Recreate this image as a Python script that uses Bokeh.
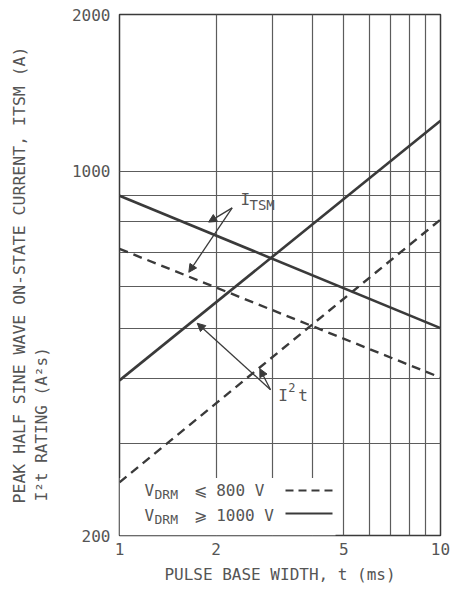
from bokeh.plotting import figure
from bokeh.models import (FixedTicker, Label, Arrow, NormalHead, BoxAnnotation,
                          CustomJSTickFormatter, LogAxis)
from bokeh.embed import file_html
from bokeh.resources import INLINE

# ---- data ----
pulse_ms = [1, 10]
itsm_800 = [710, 402]      # V_DRM <= 800 V, peak surge current (A)
itsm_1000 = [898, 500]     # V_DRM >= 1000 V
i2t_800 = [253, 808]       # I^2t rating (A^2 s)
i2t_1000 = [397, 1250]

x_tick_values = [1, 2, 5, 10]
x_grid_values = [2, 3, 4, 5, 6, 7, 8, 9]
y_tick_values = [200, 1000, 2000]
y_grid_values = [300, 400, 500, 600, 700, 800, 900, 1000]

FONT = "DejaVu Sans Mono"
INK = "#3a3a3a"
GRID = "#5c5c5c"
TXT = "#555555"
NBSP = "\u00a0"

p = figure(width=459, height=590, x_axis_type="log", y_axis_type="log",
           x_range=(1, 10), y_range=(200, 2000),
           output_backend="svg", toolbar_location=None,
           min_border_left=119, min_border_right=19,
           min_border_top=14, min_border_bottom=55,
           background_fill_color="white", border_fill_color="white")

p.outline_line_color = INK
p.outline_line_width = 1.5

fmt = CustomJSTickFormatter(code="return String(Math.round(tick));")
for ax, ticks in ((p.xaxis, x_tick_values), (p.yaxis, y_tick_values)):
    ax.ticker = FixedTicker(ticks=ticks)
    ax.formatter = fmt
    ax.axis_line_color = None
    ax.major_tick_line_color = None
    ax.minor_tick_line_color = None
    ax.major_tick_out = 0
    ax.major_tick_in = 0
    ax.minor_tick_out = 0
    ax.major_label_text_font = FONT
    ax.major_label_text_font_size = "16px"
    ax.major_label_text_color = TXT
    ax.axis_label_text_font = FONT
    ax.axis_label_text_font_style = "normal"
    ax.axis_label_text_color = TXT
    ax.axis_label_text_font_size = "16px"
p.yaxis.major_label_standoff = 9
p.xaxis.major_label_standoff = 7

p.xaxis.axis_label = "PULSE BASE WIDTH, t (ms)"
p.xaxis.axis_label_standoff = 7

# y-axis title: two lines, both starting at the same bottom point
p.yaxis.axis_label = "I\u00b2t RATING (A\u00b2s)" + NBSP * 31
p.yaxis.axis_label_standoff = 18
outer = LogAxis(ticker=FixedTicker(ticks=[]), axis_line_color=None,
                major_tick_line_color=None, minor_tick_line_color=None,
                major_tick_out=0, minor_tick_out=0, major_label_standoff=0,
                axis_label="PEAK HALF SINE WAVE ON-STATE CURRENT, ITSM (A)",
                axis_label_standoff=0, axis_label_text_font=FONT,
                axis_label_text_font_style="normal",
                axis_label_text_font_size="16.5px", axis_label_text_color=TXT)
p.add_layout(outer, "left")

p.xgrid.ticker = FixedTicker(ticks=x_grid_values)
p.ygrid.ticker = FixedTicker(ticks=y_grid_values)
for g in (p.xgrid, p.ygrid):
    g.grid_line_color = GRID
    g.grid_line_width = 1.2
    g.grid_line_alpha = 1.0

# white legend panel hiding the grid
p.add_layout(BoxAnnotation(left=1, right=4.71, bottom=200, top=258,
                           fill_color="white", fill_alpha=1.0,
                           line_color=None, level="underlay"))

DASH = "9 6"
p.line(pulse_ms, itsm_1000, line_color=INK, line_width=2.6)
p.line(pulse_ms, i2t_1000, line_color=INK, line_width=2.6)
p.line(pulse_ms, itsm_800, line_color=INK, line_width=2.4, line_dash=DASH)
p.line(pulse_ms, i2t_800, line_color=INK, line_width=2.4, line_dash=DASH)

# ---- pointer arrows ----
def arrow(x0, y0, x1, y1):
    p.add_layout(Arrow(x_start=x0, y_start=y0, x_end=x1, y_end=y1,
                       line_color=INK, line_width=1.3,
                       end=NormalHead(size=8, fill_color=INK, line_color=INK,
                                      line_width=1)))

arrow(2.244, 851, 1.894, 799)
arrow(2.244, 851, 1.644, 640)
arrow(2.954, 381, 1.746, 511)
arrow(2.954, 381, 2.736, 418)

def lab(x, y, text, size=16, units="data", **kw):
    p.add_layout(Label(x=x, y=y, x_units=units, y_units=units, text=text,
                       text_font=FONT, text_font_size=f"{size}px",
                       text_color=TXT, text_baseline=kw.pop("baseline", "middle"),
                       text_align=kw.pop("align", "left"), **kw))

# I_TSM label
lab(2.382, 883, "I")
lab(2.541, 860, "TSM", size=14)
# I^2t label
lab(3.122, 371, "I")
lab(3.358, 385, "2", size=12)
lab(3.603, 371, "t")

# ---- legend (screen units relative to frame) ----
lab(25, 45, "V", units="screen")
lab(35, 41, "DRM", size=13, units="screen")
lab(74, 45, "\u2a7d  800 V", units="screen")
lab(25, 20, "V", units="screen")
lab(35, 16, "DRM", size=13, units="screen")
lab(74, 20, "\u2a7e 1000 V", units="screen")
p.add_layout(Arrow(x_start=166, y_start=45, x_end=213, y_end=45,
                   start_units="screen", end_units="screen", end=None,
                   line_color=INK, line_width=2.0, line_dash="8 5"))
p.add_layout(Arrow(x_start=166, y_start=22, x_end=213, y_end=22,
                   start_units="screen", end_units="screen", end=None,
                   line_color=INK, line_width=2.0))

open("out.html", "w").write(file_html(p, INLINE))
